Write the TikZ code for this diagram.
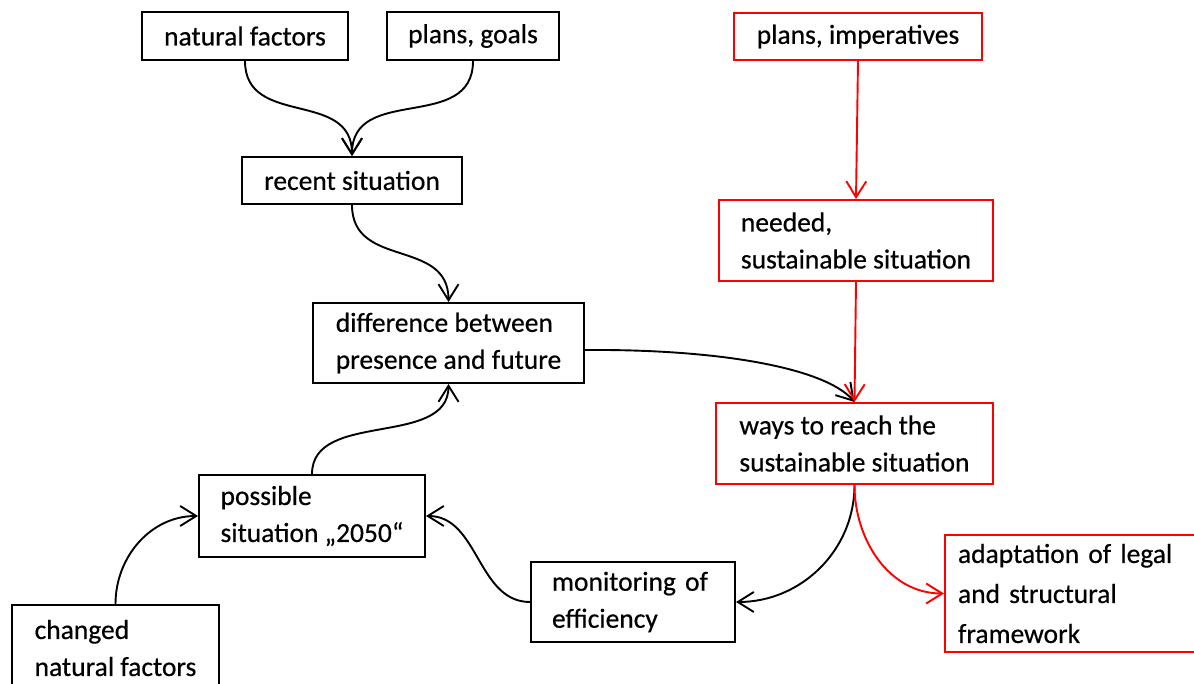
\documentclass[tikz,border=0pt]{standalone}
\usepackage{fontspec}
\setmainfont{Carlito}[FakeBold=0.5]
\usetikzlibrary{arrows.meta}
\begin{document}
\begin{tikzpicture}[x=1pt,y=-1pt,
  every node/.style={font=\fontsize{27.5}{37}\selectfont},
  cbox/.style={draw, line width=2pt, inner sep=0pt, align=center},
  lbox/.style={draw, line width=2pt, inner sep=0pt, align=left},
  redbox/.style={draw=red},
  arr/.style={line width=1.9pt, -{Straight Barb[length=16pt,width=20pt,line width=1.9pt]}},
  redarr/.style={arr, draw=red}
]
\useasboundingbox (0,0) rectangle (1194,684);
\fill[white] (0,0) rectangle (1194,684);

\node[cbox, minimum width=206pt, minimum height=48pt] (nf) at (245,36) {natural factors};
\node[cbox, minimum width=172pt, minimum height=48pt] (pg) at (473,36) {plans, goals};
\node[cbox, minimum width=220pt, minimum height=47pt] (rs) at (352,180.5) {recent situation};
\node[cbox, redbox, minimum width=248pt, minimum height=47pt] (pi) at (858,36.5) {plans, imperatives};
\node[lbox, redbox, minimum width=274pt, minimum height=81pt] (ns) at (856,240.5) {needed,\\sustainable situation};
\node[lbox, minimum width=271pt, minimum height=80pt] (diff) at (448.5,343) {difference between\\presence and future};
\node[lbox, redbox, minimum width=277pt, minimum height=81pt] (ways) at (854.5,443.5) {ways to reach the\\sustainable situation};
\node[lbox, minimum width=226pt, minimum height=82pt] (poss) at (312,516) {possible\\situation „2050“};
\node[lbox, minimum width=207pt, minimum height=86pt] (chg) at (115.5,648) {changed\\natural factors};
\node[lbox, inner xsep=21pt, text width=162pt, minimum height=80pt] (mon) at (633,602) {monitoring of\\efficiency};
\node[draw=red, line width=2pt, inner ysep=0pt, inner xsep=13pt, text width=304pt, align=left,
      minimum height=117pt, font=\fontsize{27.5}{40}\selectfont] (ad) at (1110,593.5)
      {adaptation of legal\\and structural\\framework};

\draw[arr] (nf.south) to[out=-90,in=90,looseness=1.2] (rs.north);
\draw[arr] (pg.south) to[out=-90,in=90,looseness=1.2] (rs.north);
\draw[arr] (rs.south) to[out=-90,in=90,looseness=1.2] (diff.north);
\draw[arr] ([yshift=-7pt]diff.east) .. controls (720,349) and (825,368) .. (ways.north);
\draw[redarr] (pi.south) -- (ns.north);
\draw[redarr] (ns.south) -- (ways.north);
\draw[arr] (ways.south) to[out=-90,in=0] (mon.east);
\draw[redarr] (ways.south) to[out=-90,in=180] (ad.west);
\draw[arr] (mon.west) to[out=180,in=0] (poss.east);
\draw[arr] (poss.north) to[out=90,in=-90] (diff.south);
\draw[arr] (chg.north) to[out=90,in=180] (poss.west);
\end{tikzpicture}
\end{document}
